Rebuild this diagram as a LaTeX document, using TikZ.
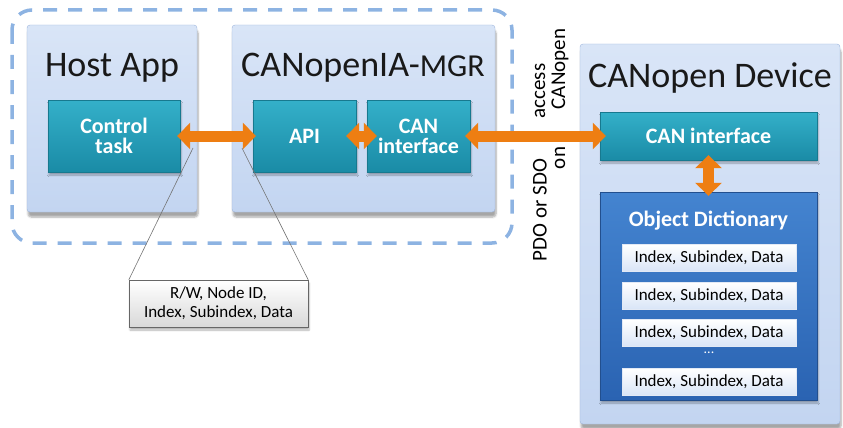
\documentclass[tikz,border=0pt]{standalone}
\usepackage{fontspec}
\setmainfont{Carlito}
\usetikzlibrary{arrows.meta,shadows.blur}

\definecolor{paleblue}{HTML}{D9E5F7}
\definecolor{paleblue2}{HTML}{C3D5F1}
\definecolor{paleedge}{HTML}{9EB6DD}
\definecolor{tealtop}{HTML}{34B0C9}
\definecolor{tealbot}{HTML}{1A8BA6}
\definecolor{tealedge}{HTML}{17798F}
\definecolor{odtop}{HTML}{4484D0}
\definecolor{odbot}{HTML}{2A63B2}
\definecolor{orangetop}{HTML}{F9AE5A}
\definecolor{orangebot}{HTML}{EE7E12}
\definecolor{dashblue}{HTML}{8DB3E2}

\tikzset{
  layer/.style={draw=paleedge, top color=paleblue, bottom color=paleblue2,
    rounded corners=3pt, blur shadow={shadow blur steps=6, shadow xshift=1pt, shadow yshift=-5pt, shadow opacity=35}},
  task/.style={draw=tealedge, top color=tealtop, bottom color=tealbot, text=white,
    font=\fontsize{22}{24}\selectfont\bfseries, align=center,
    blur shadow={shadow blur steps=4, shadow xshift=1pt, shadow yshift=-3pt, shadow opacity=30}},
  entry/.style={draw=white!70!paleedge, top color=white, bottom color=paleblue,
    minimum width=174pt, minimum height=27pt, inner sep=0pt, font=\fontsize{17}{19}\selectfont},
  title/.style={font=\fontsize{36}{40}\selectfont, text=black!90},
  bigarrow/.style={draw=orangebot, line width=11pt,
    {Triangle[width=26pt,length=13pt]}-{Triangle[width=26pt,length=13pt]}},
  turned/.style={rotate=90, font=\fontsize{21}{23}\selectfont, inner sep=0pt}
}

\begin{document}
\begin{tikzpicture}[x=1pt,y=-1pt]
\useasboundingbox (0,0) rectangle (843,428);

\draw[dashblue, line width=3.5pt, dash pattern=on 14pt off 11pt, rounded corners=20pt] (12,10) rectangle (512,243);

\node[layer, minimum width=170pt, minimum height=187pt] (host) at (112,118.5) {};
\node[layer, minimum width=263pt, minimum height=187pt] (mgr) at (363.5,118.5) {};
\node[layer, minimum width=260pt, minimum height=380pt] (dev) at (710,234) {};

\node[title] (hosttitle) at (112,68) {Host App};
\node[title] (mgrtitle) at (363,68) {CANopenIA-{\fontsize{32}{36}\selectfont MGR}};
\node[title] (devtitle) at (710,78) {CANopen Device};

\node[task, minimum width=132pt, minimum height=72pt] (ctrl) at (114,136) {Control\\[-4pt]task};
\node[task, minimum width=103pt, minimum height=72pt] (api) at (304.5,136) {API};
\node[task, minimum width=103pt, minimum height=72pt] (mgrcan) at (418.5,136) {CAN\\[-4pt]interface};
\node[task, minimum width=217pt, minimum height=48pt] (devcan) at (708.5,136) {CAN interface};

\node[task, draw=odbot!80!black, top color=odtop, bottom color=odbot, minimum width=217pt, minimum height=208pt] (objdict) at (708.5,296) {};
\node[text=white, font=\fontsize{22}{24}\selectfont\bfseries] (odtitle) at (708.5,221) {Object Dictionary};
\node[entry] (entry1) at (709,258) {Index, Subindex, Data};
\node[entry] (entry2) at (709,295.5) {Index, Subindex, Data};
\node[entry] (entry3) at (709,333) {Index, Subindex, Data};
\node[text=white, font=\fontsize{14}{14}\selectfont] (dots) at (709,353) {...};
\node[entry] (entry4) at (709,381.5) {Index, Subindex, Data};

\node[draw=black!60, top color=white, bottom color=black!15, minimum width=179pt, minimum height=47pt,
  align=center, inner sep=0pt, font=\fontsize{17}{19}\selectfont,
  blur shadow={shadow blur steps=4, shadow xshift=1pt, shadow yshift=-3pt, shadow opacity=30}] (rwbox) at (218.5,303.5)
  {R/W, Node ID,\\Index, Subindex, Data};

\coordinate (calla) at (193,148);
\coordinate (callb) at (242,148);
\draw[black!55, line width=0.6pt] (calla) -- (rwbox.north west);
\draw[black!55, line width=0.6pt] (callb) -- (rwbox.north east);

\draw[bigarrow, shorten <=-3pt, shorten >=-3pt] (ctrl.east) -- (api.west);
\draw[bigarrow, shorten <=-10pt, shorten >=-10pt] (api.east) -- (mgrcan.west);
\draw[bigarrow, shorten <=-5pt, shorten >=-6pt] (mgrcan.east) -- (devcan.west);
\draw[bigarrow, shorten <=-5pt, shorten >=-4pt] (devcan.south) -- (objdict.north);

\node[turned] (pdo) at (540,210) {PDO or SDO};
\node[turned] (access) at (540,91) {access};
\node[turned] (on) at (560,158) {on};
\node[turned] (canopen) at (560,69) {CANopen};
\end{tikzpicture}
\end{document}
